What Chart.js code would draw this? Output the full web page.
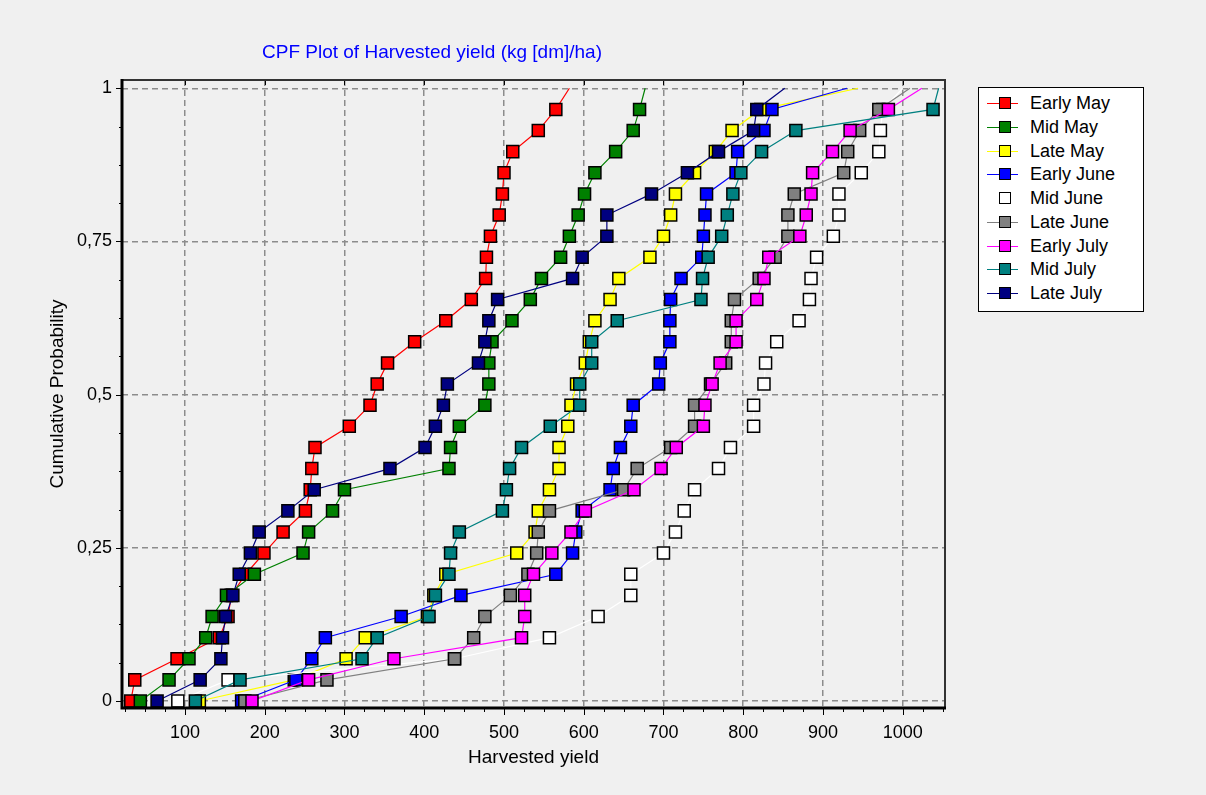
<!DOCTYPE html>
<html>
<head>
<meta charset="utf-8">
<script src="https://cdn.jsdelivr.net/npm/chart.js@4/dist/chart.umd.min.js"></script>
<style>
  html, body { margin: 0; padding: 0; background: #f0f0f0; }
  #wrap { position: relative; width: 1206px; height: 795px; }
  #legend { position: absolute; left: 978px; top: 87px; width: 164px; height: 223px;
            background: #fff; border: 1px solid #000; font: 18px "Liberation Sans", Arial, sans-serif; color: #000; }
  .lg-row { position: absolute; left: 0; height: 22px; width: 160px; }
  .lg-line { position: absolute; left: 8px; top: 11px; width: 31px; height: 1px; }
  .lg-box { position: absolute; left: 20px; top: 5px; width: 10px; height: 10px; border: 1px solid #000; }
  .lg-txt { position: absolute; left: 51px; top: 0px; line-height: 22px; white-space: nowrap; }
</style>
</head>
<body>
<div id="wrap">
  <canvas id="cpf" width="1206" height="795"></canvas>
  <div id="legend"></div>
</div>
<script>
const probability = [0, 0.0345, 0.069, 0.1034, 0.1379, 0.1724, 0.2069, 0.2414, 0.2759, 0.3103,
  0.3448, 0.3793, 0.4138, 0.4483, 0.4828, 0.5172, 0.5517, 0.5862, 0.6207, 0.6552,
  0.6897, 0.7241, 0.7586, 0.7931, 0.8276, 0.8621, 0.8966, 0.931, 0.9655, 1];

const earlyMay  = [32, 37, 90, 143, 154, 158, 176, 199, 223, 251, 257, 259, 263, 306, 332, 341, 354, 388, 427, 459, 477, 478, 483, 494, 498, 500, 511, 543, 565, 582];
const midMay    = [44, 80, 105, 126, 134, 152, 187, 248, 255, 285, 300, 431, 433, 444, 476, 481, 481, 485, 510, 533, 547, 571, 582, 593, 601, 614, 640, 662, 670, 677];
const lateMay   = [118, 237, 302, 326, 404, 412, 427, 516, 539, 543, 557, 569, 569, 580, 584, 591, 602, 607, 614, 633, 644, 683, 700, 709, 715, 739, 765, 786, 822, 944];
const earlyJune = [171, 239, 259, 276, 371, 446, 565, 586, 590, 598, 633, 637, 646, 659, 662, 694, 696, 708, 708, 709, 722, 748, 750, 752, 754, 791, 793, 826, 836, 930];
const midJune   = [91, 154, 438, 557, 618, 659, 659, 700, 715, 726, 739, 769, 784, 813, 813, 826, 828, 842, 870, 883, 885, 892, 913, 920, 920, 948, 970, 972, 975, 1000];
const lateJune  = [175, 278, 438, 462, 476, 508, 530, 541, 543, 557, 650, 667, 709, 739, 739, 759, 778, 785, 785, 789, 820, 840, 856, 856, 864, 926, 931, 946, 970, 1009];
const earlyJuly = [184, 255, 362, 522, 526, 526, 537, 560, 584, 602, 663, 697, 716, 750, 752, 761, 771, 791, 791, 817, 826, 832, 871, 879, 885, 887, 912, 934, 982, 1024];
const midJuly   = [113, 169, 322, 341, 406, 414, 431, 433, 444, 498, 503, 507, 522, 558, 595, 595, 610, 610, 642, 747, 749, 756, 773, 780, 787, 797, 823, 866, 1038, 1045];
const lateJuly  = [65, 119, 145, 147, 151, 160, 168, 182, 193, 229, 262, 357, 401, 414, 424, 429, 468, 476, 481, 492, 586, 598, 629, 629, 685, 730, 769, 813, 817, 852];

const seriesNames = ['Early May', 'Mid May', 'Late May', 'Early June', 'Mid June', 'Late June', 'Early July', 'Mid July', 'Late July'];
const seriesValues = [earlyMay, midMay, lateMay, earlyJune, midJune, lateJune, earlyJuly, midJuly, lateJuly];
const seriesColors = ['#ff0000', '#008000', '#ffff00', '#0000ff', '#ffffff', '#808080', '#ff00ff', '#008080', '#000080'];

const xTicks = [100, 200, 300, 400, 500, 600, 700, 800, 900, 1000];
const yTicks = [0, 0.25, 0.5, 0.75, 1];

const labelFont = { family: '"Liberation Sans", Arial, sans-serif', size: 18 };
const axisTitleFont = { family: '"Liberation Sans", Arial, sans-serif', size: 19 };

// frame, minor ticks and title (drawn on top of the chart area)
const framePlugin = {
  id: 'frame',
  afterDraw(chart) {
    const { ctx, chartArea: a, scales: { x, y } } = chart;
    ctx.save();
    ctx.strokeStyle = '#000';
    ctx.lineWidth = 1;
    ctx.beginPath();
    for (let v = 25; v <= 1050; v += 25) {
      const px = Math.round(x.getPixelForValue(v)) + 0.5;
      const major = v % 100 === 0;
      ctx.moveTo(px, a.bottom);
      ctx.lineTo(px, a.bottom + (major ? 7 : 4));
      if (major) { ctx.moveTo(px, a.top); ctx.lineTo(px, a.top + 5); }
    }
    for (let v = 0; v <= 1.0001; v += 0.0625) {
      const py = Math.round(y.getPixelForValue(v)) + 0.5;
      const major = Math.abs(v * 4 - Math.round(v * 4)) < 1e-6;
      ctx.moveTo(a.left, py);
      ctx.lineTo(a.left - (major ? 6 : 3), py);
    }
    ctx.stroke();

    ctx.strokeStyle = '#333';
    ctx.lineWidth = 2;
    ctx.beginPath();
    ctx.moveTo(a.left, a.top); ctx.lineTo(a.right, a.top); ctx.lineTo(a.right, a.bottom);
    ctx.stroke();
    ctx.strokeStyle = '#000';
    ctx.lineWidth = 3;
    ctx.beginPath();
    ctx.moveTo(a.left, a.top - 1); ctx.lineTo(a.left, a.bottom); ctx.lineTo(a.right + 1, a.bottom);
    ctx.stroke();

    ctx.fillStyle = '#0000ff';
    ctx.font = '19px "Liberation Sans", Arial, sans-serif';
    ctx.textAlign = 'center';
    ctx.textBaseline = 'middle';
    ctx.fillText('CPF Plot of Harvested yield (kg [dm]/ha)', 432, 53);
    ctx.restore();
  }
};

const datasets = seriesValues.map((vals, i) => ({
  label: seriesNames[i],
  data: vals.map((v, k) => ({ x: v, y: probability[k] })),
  borderColor: seriesColors[i],
  backgroundColor: seriesColors[i],
  borderWidth: 1.2,
  pointStyle: 'rect',
  pointBackgroundColor: seriesColors[i],
  pointBorderColor: '#000',
  pointBorderWidth: 1.5,
  pointRadius: ctx => ctx.dataIndex === probability.length - 1 ? 0 : 8.5,
  pointHoverRadius: 8.5,
  tension: 0,
  order: -i,
  clip: false
}));

new Chart(document.getElementById('cpf'), {
  type: 'line',
  data: { datasets },
  options: {
    responsive: false,
    animation: false,
    events: [],
    layout: { padding: { left: 42, top: 80, right: 261, bottom: 22 } },
    plugins: { legend: { display: false }, tooltip: { enabled: false } },
    scales: {
      x: {
        type: 'linear', min: 21, max: 1053,
        afterBuildTicks: s => { s.ticks = xTicks.map(v => ({ value: v })); },
        afterFit: s => { s.height = 65; },
        ticks: { font: labelFont, color: '#000', padding: 14, maxRotation: 0, autoSkip: false, callback: v => String(v) },
        grid: { color: '#8c8c8c', lineWidth: 1.5, drawTicks: false },
        border: { display: false, dash: [6, 4] },
        title: { display: true, text: 'Harvested yield', font: axisTitleFont, color: '#000', padding: { top: 4, bottom: 4 } }
      },
      y: {
        type: 'linear', min: -0.0114, max: 1.0135,
        afterBuildTicks: s => { s.ticks = yTicks.map(v => ({ value: v })); },
        afterFit: s => { s.width = 80; },
        ticks: { font: labelFont, color: '#000', padding: 10, callback: v => String(v).replace('.', ',') },
        grid: { color: '#8c8c8c', lineWidth: 1.5, drawTicks: false },
        border: { display: false, dash: [6, 4] },
        title: { display: true, text: 'Cumulative Probability', font: axisTitleFont, color: '#000', padding: { top: 4, bottom: 4 } }
      }
    }
  },
  plugins: [framePlugin]
});

// legend box
const legend = document.getElementById('legend');
seriesNames.forEach((name, i) => {
  const row = document.createElement('div');
  row.className = 'lg-row';
  row.style.top = (4 + i * 23.75) + 'px';
  row.innerHTML = `<div class="lg-line" style="background:${seriesColors[i]}"></div>` +
    `<div class="lg-box" style="background:${seriesColors[i]}"></div>` +
    `<div class="lg-txt">${name}</div>`;
  legend.appendChild(row);
});
</script>
</body>
</html>
